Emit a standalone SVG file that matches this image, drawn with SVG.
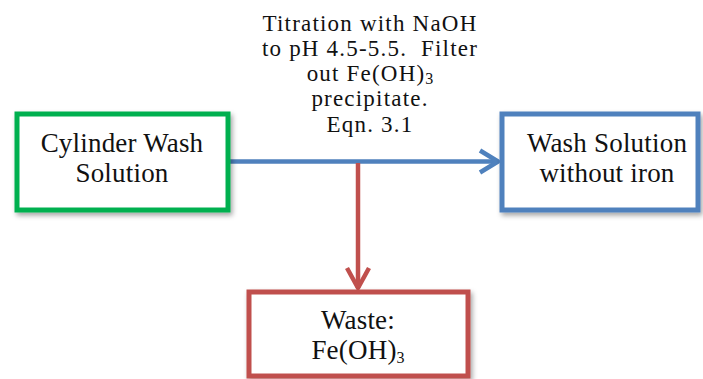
<svg xmlns="http://www.w3.org/2000/svg" width="703" height="379" viewBox="0 0 703 379">
<style>
text{font-family:"Liberation Serif","Times New Roman",serif;fill:#111;text-anchor:middle}
.box{fill:#fff;stroke-width:5}
.lbl{font-size:27px;letter-spacing:0.2px}
.cap{font-size:23px;letter-spacing:1.2px}
.sub{font-size:16px;letter-spacing:0}
.conn{fill:none;stroke-width:4.5;stroke-linecap:butt;stroke-linejoin:round}
</style>
<defs>
<filter id="sh" x="-10%" y="-10%" width="125%" height="130%">
<feDropShadow dx="2" dy="3" stdDeviation="2.5" flood-color="#000" flood-opacity="0.35"/>
</filter>
</defs>
<g id="connectors">
<path class="conn" stroke="#4F81BD" d="M228 161.5H498"/>
<path class="conn" stroke="#4F81BD" d="M480 150.5L498 161.5L480 172.5"/>
<path class="conn" stroke="#C0504D" d="M358 163V288"/>
<path class="conn" stroke="#C0504D" d="M347 268L358 288L369 268"/>
</g>
<g id="cylinder">
<rect class="box" x="17" y="114" width="211" height="96" stroke="#00B050" filter="url(#sh)"/>
<text class="lbl" x="122" y="152">Cylinder Wash</text>
<text class="lbl" x="122" y="182">Solution</text>
</g>
<g id="wash">
<rect class="box" x="502" y="114" width="196" height="96" stroke="#4F81BD" filter="url(#sh)"/>
<text class="lbl" x="607" y="152">Wash Solution</text>
<text class="lbl" x="607" y="182">without iron</text>
</g>
<g id="waste">
<rect class="box" x="249" y="292" width="219" height="84" stroke="#C0504D" filter="url(#sh)"/>
<text class="lbl" x="358" y="329">Waste:</text>
<text class="lbl" x="358" y="359">Fe(OH)<tspan class="sub" dy="4">3</tspan></text>
</g>
<g id="label">
<text class="cap" x="370" y="31">Titration with NaOH</text>
<text class="cap" x="370" y="56" xml:space="preserve">to pH 4.5-5.5.  Filter</text>
<text class="cap" x="370" y="81">out Fe(OH)<tspan class="sub" dy="3">3</tspan></text>
<text class="cap" x="370" y="106">precipitate.</text>
<text class="cap" x="370" y="132">Eqn. 3.1</text>
</g>
</svg>
